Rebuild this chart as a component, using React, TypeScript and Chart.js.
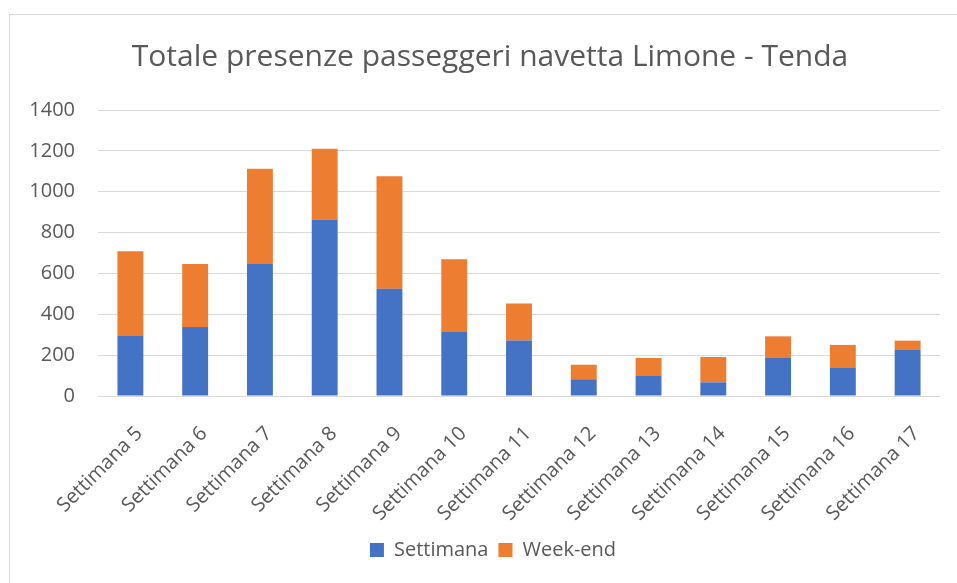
import React, { useEffect, useRef } from "react";
import { Chart, registerables } from "chart.js";

Chart.register(...registerables);

const categories = [
  "Settimana 5",
  "Settimana 6",
  "Settimana 7",
  "Settimana 8",
  "Settimana 9",
  "Settimana 10",
  "Settimana 11",
  "Settimana 12",
  "Settimana 13",
  "Settimana 14",
  "Settimana 15",
  "Settimana 16",
  "Settimana 17",
];
const settimana = [294, 338, 646, 863, 525, 313, 272, 82, 98, 67, 186, 137, 225];
const weekend = [414, 308, 466, 347, 551, 357, 181, 71, 88, 124, 106, 113, 46];
const yMin = 0;
const yMax = 1400;
const yStep = 200;

const FONT = "'Open Sans', 'Noto Sans', sans-serif";
const TEXT = "#595959";

const boxShift = {
  id: "boxShift",
  afterLayout(chart: any) {
    const l = chart.legend;
    if (l) l.left += 46;
    const t = chart.titleBlock;
    if (t) t.left += 40;
  },
};

export default function App() {
  const ref = useRef<HTMLCanvasElement | null>(null);

  useEffect(() => {
    if (!ref.current) return;
    const chart = new Chart(ref.current, {
      type: "bar",
      data: {
        labels: categories,
        datasets: [
          {
            label: "Settimana",
            data: settimana,
            backgroundColor: "#4472C4",
            borderWidth: 0,
          },
          {
            label: "Week-end",
            data: weekend,
            backgroundColor: "#ED7D31",
            borderWidth: 0,
          },
        ],
      },
      plugins: [boxShift],
      options: {
        responsive: false,
        animation: false,
        layout: { padding: { left: 0, right: 17, top: 0, bottom: 13 } },
        datasets: { bar: { categoryPercentage: 0.8, barPercentage: 0.5 } },
        plugins: {
          title: {
            display: true,
            text: "Totale presenze passeggeri navetta Limone - Tenda",
            color: TEXT,
            font: { family: FONT, size: 30, weight: "normal" },
            padding: { top: 39, bottom: 35 },
          },
          legend: {
            position: "bottom",
            labels: {
              color: TEXT,
              font: { family: FONT, size: 20 },
              boxWidth: 14,
              boxHeight: 14,
              padding: 10,
            },
          },
          tooltip: { enabled: false },
        },
        scales: {
          x: {
            stacked: true,
            grid: { display: false },
            border: { display: false },
            ticks: {
              color: TEXT,
              font: { family: FONT, size: 20 },
              minRotation: 45,
              maxRotation: 45,
              padding: 18,
              labelOffset: 9,
            },
            afterFit: (scale: any) => {
              scale.height = 134;
            },
          },
          y: {
            stacked: true,
            min: yMin,
            max: yMax,
            grid: { color: "#d9d9d9", lineWidth: 1, drawTicks: false },
            border: { display: false },
            ticks: {
              stepSize: yStep,
              color: TEXT,
              font: { family: FONT, size: 20 },
              padding: 23,
              callback: (v: any) => String(v),
            },
            afterFit: (scale: any) => {
              scale.width = 98;
            },
          },
        },
      },
    });
    return () => chart.destroy();
  }, []);

  return (
    <div
      style={{
        position: "fixed",
        left: 0,
        top: 0,
        width: 957,
        height: 583,
        background: "#ffffff",
        overflow: "hidden",
      }}
    >
      <div
        style={{
          position: "absolute",
          left: 9,
          top: 14,
          right: -2,
          bottom: -2,
          borderLeft: "1px solid #d9d9d9",
          borderTop: "1px solid #d9d9d9",
        }}
      />
      <canvas
        ref={ref}
        width={957}
        height={583}
        style={{ position: "absolute", left: 0, top: 0 }}
      />
    </div>
  );
}
